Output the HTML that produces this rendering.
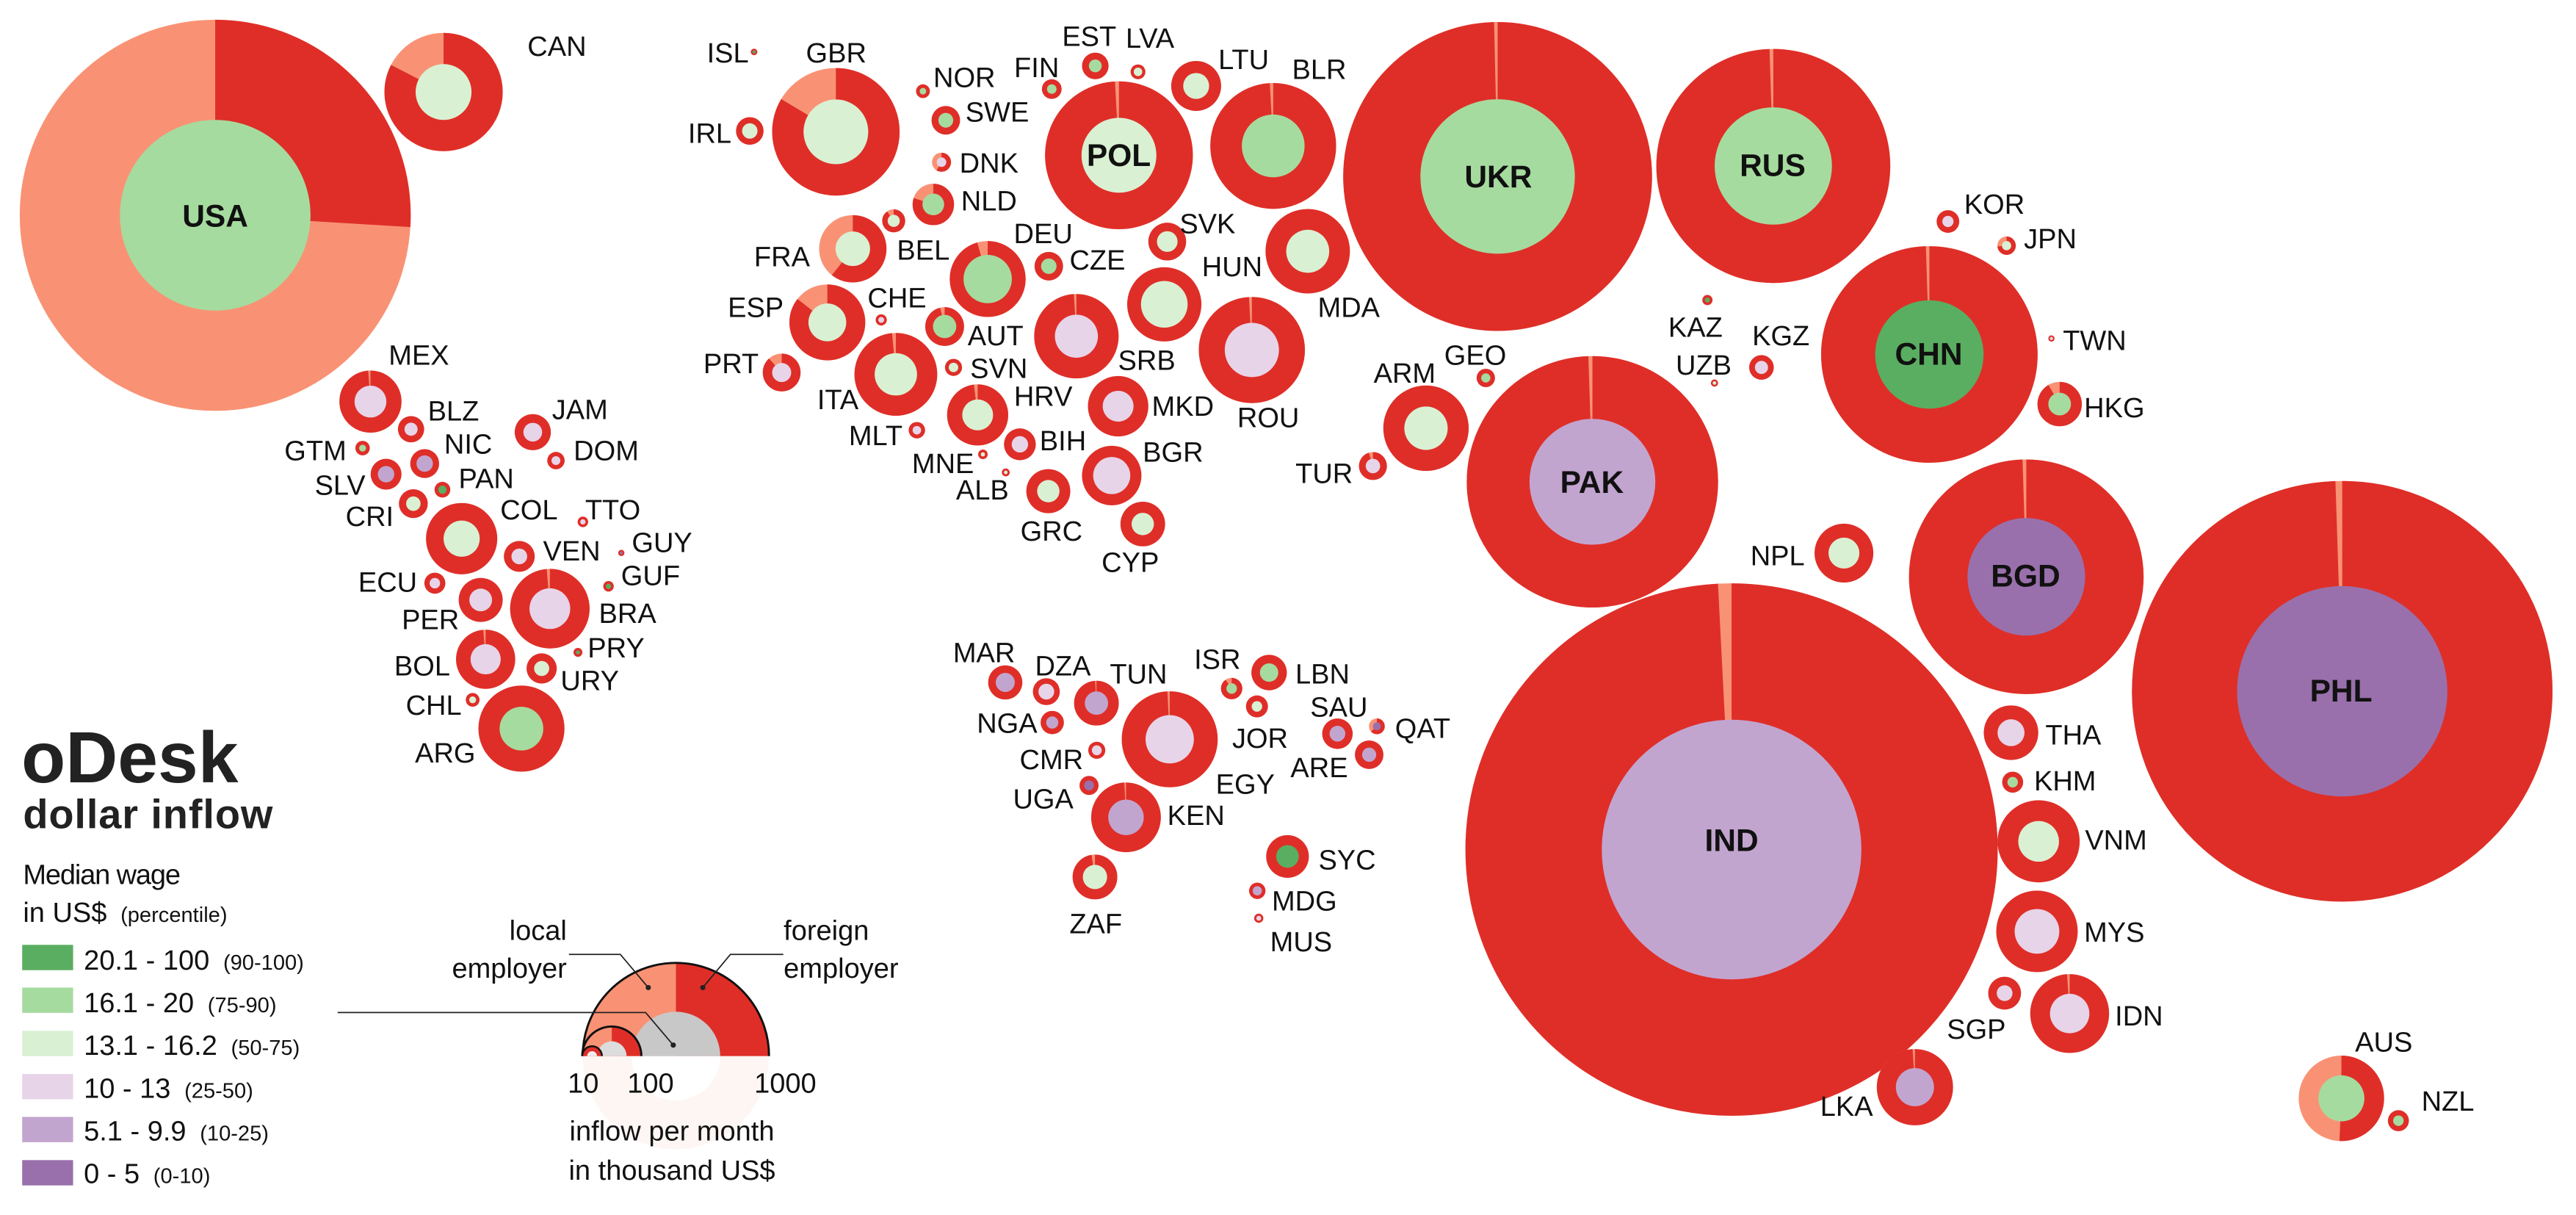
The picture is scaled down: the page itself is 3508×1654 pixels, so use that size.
<!DOCTYPE html>
<html><head><meta charset="utf-8"><style>
html,body{margin:0;padding:0;background:#fff}
svg{display:block}
.s{fill:#f99274}.r{fill:#df2e28}.w{fill:none;stroke:#df2e28}
text{font-family:"Liberation Sans",Arial,sans-serif;fill:#111}
.l{font-size:17px;text-anchor:middle}
.b{font-size:19px;font-weight:bold;text-anchor:middle}
.g{font-size:17px}
</style></head><body>
<svg width="3508" height="1654" viewBox="0 0 1568 739.4" preserveAspectRatio="none" xmlns="http://www.w3.org/2000/svg">
<rect width="1568" height="739.4" fill="#fff"/>
<!-- USA / CAN -->
<circle cx="131" cy="131" r="119" class="s"/><circle cx="131" cy="131" r="59.5" stroke-width="119" stroke-dasharray="26 100" pathLength="100" transform="rotate(-90 131 131)" class="w"/><circle cx="131" cy="131" r="58" fill="#a6db9f"/>
<circle cx="270" cy="56" r="36" class="s"/><circle cx="270" cy="56" r="18" stroke-width="36" stroke-dasharray="83 100" pathLength="100" transform="rotate(-90 270 56)" class="w"/><circle cx="270" cy="56" r="17" fill="#d9f0d3"/>
<!-- Europe -->
<circle cx="459" cy="31.6" r="2" class="r"/><circle cx="459" cy="31.6" r="1" fill="#5aae61"/>
<circle cx="508.8" cy="80.2" r="38.8" class="s"/><circle cx="508.8" cy="80.2" r="19.4" stroke-width="38.8" stroke-dasharray="84 100" pathLength="100" transform="rotate(-90 508.8 80.2)" class="w"/><circle cx="508.8" cy="80.2" r="19.7" fill="#d9f0d3"/>
<circle cx="456.4" cy="79.7" r="8.4" class="r"/><circle cx="456.4" cy="79.7" r="4.7" fill="#d9f0d3"/>
<circle cx="561.8" cy="55.5" r="4.2" class="r"/><circle cx="561.8" cy="55.5" r="2" fill="#a6db9f"/>
<circle cx="575.7" cy="73.2" r="8.7" class="r"/><circle cx="575.7" cy="73.2" r="4.5" fill="#a6db9f"/>
<circle cx="573.1" cy="98.7" r="5.8" class="s"/><circle cx="573.1" cy="98.7" r="2.9" stroke-width="5.8" stroke-dasharray="60 100" pathLength="100" transform="rotate(-90 573.1 98.7)" class="w"/><circle cx="573.1" cy="98.7" r="2.9" fill="#e7d4e8"/>
<circle cx="568.1" cy="124.4" r="12.6" class="s"/><circle cx="568.1" cy="124.4" r="6.3" stroke-width="12.6" stroke-dasharray="82 100" pathLength="100" transform="rotate(-90 568.1 124.4)" class="w"/><circle cx="568.1" cy="124.4" r="6.6" fill="#a6db9f"/>
<circle cx="640.2" cy="54.2" r="6" class="r"/><circle cx="640.2" cy="54.2" r="2.9" fill="#a6db9f"/>
<circle cx="666.7" cy="40.1" r="8.1" class="r"/><circle cx="666.7" cy="40.1" r="3.9" fill="#a6db9f"/>
<circle cx="692.7" cy="43.7" r="4.5" class="r"/><circle cx="692.7" cy="43.7" r="2.6" fill="#d9f0d3"/>
<circle cx="728.1" cy="52.3" r="15.2" class="r"/><circle cx="728.1" cy="52.3" r="7.9" fill="#d9f0d3"/>
<circle cx="681.1" cy="94.5" r="45" class="s"/><circle cx="681.1" cy="94.5" r="22.5" stroke-width="45" stroke-dasharray="99.6 100" pathLength="100" transform="rotate(-90 681.1 94.5)" class="w"/><circle cx="681.1" cy="94.5" r="22.8" fill="#d9f0d3"/>
<circle cx="775" cy="88.8" r="38.3" class="s"/><circle cx="775" cy="88.8" r="19.15" stroke-width="38.3" stroke-dasharray="99.6 100" pathLength="100" transform="rotate(-90 775 88.8)" class="w"/><circle cx="775" cy="88.8" r="19.1" fill="#a6db9f"/>
<circle cx="544" cy="134.4" r="7" class="s"/><circle cx="544" cy="134.4" r="3.5" stroke-width="7" stroke-dasharray="92 100" pathLength="100" transform="rotate(-90 544 134.4)" class="w"/><circle cx="544" cy="134.4" r="3.7" fill="#d9f0d3"/>
<circle cx="519.1" cy="151.4" r="20.5" class="s"/><circle cx="519.1" cy="151.4" r="10.25" stroke-width="20.5" stroke-dasharray="61 100" pathLength="100" transform="rotate(-90 519.1 151.4)" class="w"/><circle cx="519.1" cy="151.4" r="10.5" fill="#d9f0d3"/>
<circle cx="601.2" cy="169.8" r="23.1" class="s"/><circle cx="601.2" cy="169.8" r="11.55" stroke-width="23.1" stroke-dasharray="96 100" pathLength="100" transform="rotate(-90 601.2 169.8)" class="w"/><circle cx="601.2" cy="169.8" r="14.7" fill="#a6db9f"/>
<circle cx="638.4" cy="162" r="8.7" class="r"/><circle cx="638.4" cy="162" r="4.7" fill="#a6db9f"/>
<circle cx="710.5" cy="147" r="11.5" class="r"/><circle cx="710.5" cy="147" r="6.3" fill="#d9f0d3"/>
<circle cx="708.7" cy="185.2" r="22.6" class="r"/><circle cx="708.7" cy="185.2" r="14.2" fill="#d9f0d3"/>
<circle cx="796" cy="152.9" r="25.7" class="r"/><circle cx="796" cy="152.9" r="13.1" fill="#d9f0d3"/>
<circle cx="503.6" cy="196.2" r="23.1" class="s"/><circle cx="503.6" cy="196.2" r="11.55" stroke-width="23.1" stroke-dasharray="86 100" pathLength="100" transform="rotate(-90 503.6 196.2)" class="w"/><circle cx="503.6" cy="196.2" r="11.5" fill="#d9f0d3"/>
<circle cx="536.4" cy="194.7" r="3.4" class="r"/><circle cx="536.4" cy="194.7" r="1.8" fill="#e7d4e8"/>
<circle cx="575" cy="198.7" r="11.8" class="s"/><circle cx="575" cy="198.7" r="5.9" stroke-width="11.8" stroke-dasharray="98 100" pathLength="100" transform="rotate(-90 575 198.7)" class="w"/><circle cx="575" cy="198.7" r="7.1" fill="#a6db9f"/>
<circle cx="655.2" cy="204.6" r="25.7" class="s"/><circle cx="655.2" cy="204.6" r="12.85" stroke-width="25.7" stroke-dasharray="99.5 100" pathLength="100" transform="rotate(-90 655.2 204.6)" class="w"/><circle cx="655.2" cy="204.6" r="13.1" fill="#e7d4e8"/>
<circle cx="762" cy="213" r="32.3" class="s"/><circle cx="762" cy="213" r="16.15" stroke-width="32.3" stroke-dasharray="99.6 100" pathLength="100" transform="rotate(-90 762 213)" class="w"/><circle cx="762" cy="213" r="16.5" fill="#e7d4e8"/>
<circle cx="475.8" cy="226.7" r="11.5" class="s"/><circle cx="475.8" cy="226.7" r="5.75" stroke-width="11.5" stroke-dasharray="90 100" pathLength="100" transform="rotate(-90 475.8 226.7)" class="w"/><circle cx="475.8" cy="226.7" r="5.8" fill="#e7d4e8"/>
<circle cx="545.3" cy="227.8" r="25.2" class="s"/><circle cx="545.3" cy="227.8" r="12.6" stroke-width="25.2" stroke-dasharray="99 100" pathLength="100" transform="rotate(-90 545.3 227.8)" class="w"/><circle cx="545.3" cy="227.8" r="12.9" fill="#d9f0d3"/>
<circle cx="580.4" cy="223.6" r="5.2" class="r"/><circle cx="580.4" cy="223.6" r="2.9" fill="#d9f0d3"/>
<circle cx="595.1" cy="252.5" r="18.6" class="s"/><circle cx="595.1" cy="252.5" r="9.3" stroke-width="18.6" stroke-dasharray="98.5 100" pathLength="100" transform="rotate(-90 595.1 252.5)" class="w"/><circle cx="595.1" cy="252.5" r="9.4" fill="#d9f0d3"/>
<circle cx="680.6" cy="247.2" r="18.4" class="r"/><circle cx="680.6" cy="247.2" r="9.4" fill="#e7d4e8"/>
<circle cx="558.1" cy="261.8" r="5" class="r"/><circle cx="558.1" cy="261.8" r="2.6" fill="#e7d4e8"/>
<circle cx="620.8" cy="270.4" r="9.7" class="r"/><circle cx="620.8" cy="270.4" r="5" fill="#e7d4e8"/>
<circle cx="598.3" cy="276.5" r="2.9" class="r"/><circle cx="598.3" cy="276.5" r="1.3" fill="#d9f0d3"/>
<circle cx="612.2" cy="287.5" r="2.4" class="r"/><circle cx="612.2" cy="287.5" r="1.1" fill="#d9f0d3"/>
<circle cx="676.7" cy="289.4" r="18.1" class="r"/><circle cx="676.7" cy="289.4" r="11.3" fill="#e7d4e8"/>
<circle cx="638.1" cy="298.9" r="13.4" class="r"/><circle cx="638.1" cy="298.9" r="6.8" fill="#d9f0d3"/>
<circle cx="695.6" cy="318.9" r="13.6" class="r"/><circle cx="695.6" cy="318.9" r="6.8" fill="#d9f0d3"/>
<!-- Americas -->
<circle cx="225.5" cy="244.4" r="18.9" class="s"/><circle cx="225.5" cy="244.4" r="9.45" stroke-width="18.9" stroke-dasharray="99.3 100" pathLength="100" transform="rotate(-90 225.5 244.4)" class="w"/><circle cx="225.5" cy="244.4" r="9.7" fill="#e7d4e8"/>
<circle cx="250.2" cy="261.2" r="8" class="r"/><circle cx="250.2" cy="261.2" r="4" fill="#e7d4e8"/>
<circle cx="324.3" cy="263" r="11" class="r"/><circle cx="324.3" cy="263" r="5.7" fill="#e7d4e8"/>
<circle cx="220.7" cy="272.7" r="4.4" class="r"/><circle cx="220.7" cy="272.7" r="2.1" fill="#a6db9f"/>
<circle cx="258.5" cy="282.1" r="8.8" class="r"/><circle cx="258.5" cy="282.1" r="5" fill="#c2a5cf"/>
<circle cx="338.4" cy="280.3" r="5.3" class="r"/><circle cx="338.4" cy="280.3" r="2.7" fill="#e7d4e8"/>
<circle cx="235" cy="288.6" r="9.4" class="r"/><circle cx="235" cy="288.6" r="5" fill="#c2a5cf"/>
<circle cx="269.3" cy="298" r="4.8" class="r"/><circle cx="269.3" cy="298" r="2.5" fill="#5aae61"/>
<circle cx="251.6" cy="306.5" r="8.8" class="r"/><circle cx="251.6" cy="306.5" r="4.4" fill="#d9f0d3"/>
<circle cx="281" cy="327.8" r="21.7" class="r"/><circle cx="281" cy="327.8" r="11" fill="#d9f0d3"/>
<circle cx="354.8" cy="317.6" r="3.2" class="r"/><circle cx="354.8" cy="317.6" r="1.6" fill="#e7d4e8"/>
<circle cx="378.2" cy="336.5" r="1.9" class="r"/><circle cx="378.2" cy="336.5" r="0.9" fill="#9970ab"/>
<circle cx="316.1" cy="338.6" r="9.4" class="r"/><circle cx="316.1" cy="338.6" r="4.8" fill="#e7d4e8"/>
<circle cx="370.4" cy="356.8" r="3.2" class="r"/><circle cx="370.4" cy="356.8" r="1.6" fill="#5aae61"/>
<circle cx="264.7" cy="354.9" r="6.4" class="r"/><circle cx="264.7" cy="354.9" r="3.2" fill="#e7d4e8"/>
<circle cx="292.6" cy="365.1" r="13.4" class="r"/><circle cx="292.6" cy="365.1" r="6.9" fill="#e7d4e8"/>
<circle cx="334.7" cy="370.4" r="24.2" class="s"/><circle cx="334.7" cy="370.4" r="12.1" stroke-width="24.2" stroke-dasharray="99.2 100" pathLength="100" transform="rotate(-90 334.7 370.4)" class="w"/><circle cx="334.7" cy="370.4" r="12.4" fill="#e7d4e8"/>
<circle cx="351.8" cy="397" r="2.7" class="r"/><circle cx="351.8" cy="397" r="1.2" fill="#5aae61"/>
<circle cx="295.6" cy="401.2" r="18" class="s"/><circle cx="295.6" cy="401.2" r="9" stroke-width="18" stroke-dasharray="99.2 100" pathLength="100" transform="rotate(-90 295.6 401.2)" class="w"/><circle cx="295.6" cy="401.2" r="9.2" fill="#e7d4e8"/>
<circle cx="329.7" cy="406.8" r="9.2" class="r"/><circle cx="329.7" cy="406.8" r="4.6" fill="#d9f0d3"/>
<circle cx="287.7" cy="425.9" r="4.2" class="r"/><circle cx="287.7" cy="425.9" r="2.1" fill="#d9f0d3"/>
<circle cx="317.4" cy="443.4" r="26.2" class="r"/><circle cx="317.4" cy="443.4" r="13.3" fill="#a6db9f"/>
<!-- Africa / Middle East -->
<circle cx="611.9" cy="415.3" r="10.4" class="r"/><circle cx="611.9" cy="415.3" r="5.8" fill="#c2a5cf"/>
<circle cx="636.9" cy="420.9" r="8.2" class="r"/><circle cx="636.9" cy="420.9" r="4.8" fill="#e7d4e8"/>
<circle cx="667.4" cy="427.9" r="13.6" class="s"/><circle cx="667.4" cy="427.9" r="6.8" stroke-width="13.6" stroke-dasharray="99.5 100" pathLength="100" transform="rotate(-90 667.4 427.9)" class="w"/><circle cx="667.4" cy="427.9" r="7.1" fill="#c2a5cf"/>
<circle cx="749.7" cy="419" r="6.5" class="s"/><circle cx="749.7" cy="419" r="3.25" stroke-width="6.5" stroke-dasharray="92 100" pathLength="100" transform="rotate(-90 749.7 419)" class="w"/><circle cx="749.7" cy="419" r="3.2" fill="#a6db9f"/>
<circle cx="772.5" cy="409.3" r="10.8" class="r"/><circle cx="772.5" cy="409.3" r="5.6" fill="#a6db9f"/>
<circle cx="765.1" cy="429.9" r="6.7" class="r"/><circle cx="765.1" cy="429.9" r="3.2" fill="#d9f0d3"/>
<circle cx="640.5" cy="439.7" r="7.1" class="r"/><circle cx="640.5" cy="439.7" r="3.7" fill="#c2a5cf"/>
<circle cx="712" cy="449.9" r="29.2" class="s"/><circle cx="712" cy="449.9" r="14.6" stroke-width="29.2" stroke-dasharray="99.7 100" pathLength="100" transform="rotate(-90 712 449.9)" class="w"/><circle cx="712" cy="449.9" r="14.7" fill="#e7d4e8"/>
<circle cx="814.1" cy="446.5" r="9.3" class="r"/><circle cx="814.1" cy="446.5" r="4.8" fill="#c2a5cf"/>
<circle cx="838.1" cy="442" r="4.8" class="s"/><circle cx="838.1" cy="442" r="2.4" stroke-width="4.8" stroke-dasharray="70 100" pathLength="100" transform="rotate(-90 838.1 442)" class="w"/><circle cx="838.1" cy="442" r="2.4" fill="#9970ab"/>
<circle cx="833.4" cy="459.3" r="8.7" class="r"/><circle cx="833.4" cy="459.3" r="4.3" fill="#c2a5cf"/>
<circle cx="667.6" cy="456.6" r="5.2" class="r"/><circle cx="667.6" cy="456.6" r="3" fill="#e7d4e8"/>
<circle cx="662.9" cy="478" r="5.8" class="r"/><circle cx="662.9" cy="478" r="3" fill="#9970ab"/>
<circle cx="685.4" cy="497.4" r="21.2" class="s"/><circle cx="685.4" cy="497.4" r="10.6" stroke-width="21.2" stroke-dasharray="99.7 100" pathLength="100" transform="rotate(-90 685.4 497.4)" class="w"/><circle cx="685.4" cy="497.4" r="10.8" fill="#c2a5cf"/>
<circle cx="666.5" cy="533.7" r="13.6" class="s"/><circle cx="666.5" cy="533.7" r="6.8" stroke-width="13.6" stroke-dasharray="98 100" pathLength="100" transform="rotate(-90 666.5 533.7)" class="w"/><circle cx="666.5" cy="533.7" r="7.4" fill="#d9f0d3"/>
<circle cx="783.7" cy="521.2" r="13" class="r"/><circle cx="783.7" cy="521.2" r="6.9" fill="#5aae61"/>
<circle cx="765.3" cy="542.1" r="5" class="r"/><circle cx="765.3" cy="542.1" r="2.8" fill="#c2a5cf"/>
<circle cx="766.2" cy="558.8" r="2.8" class="r"/><circle cx="766.2" cy="558.8" r="1.5" fill="#e7d4e8"/>
<!-- Asia -->
<circle cx="911.6" cy="107.4" r="94" class="s"/><circle cx="911.6" cy="107.4" r="47" stroke-width="94" stroke-dasharray="99.75 100" pathLength="100" transform="rotate(-90 911.6 107.4)" class="w"/><circle cx="911.6" cy="107.4" r="47" fill="#a6db9f"/>
<circle cx="1079.4" cy="101" r="71.2" class="s"/><circle cx="1079.4" cy="101" r="35.6" stroke-width="71.2" stroke-dasharray="99.6 100" pathLength="100" transform="rotate(-90 1079.4 101)" class="w"/><circle cx="1079.4" cy="101" r="35.7" fill="#a6db9f"/>
<circle cx="1174.4" cy="215.7" r="65.9" class="s"/><circle cx="1174.4" cy="215.7" r="32.95" stroke-width="65.9" stroke-dasharray="99.6 100" pathLength="100" transform="rotate(-90 1174.4 215.7)" class="w"/><circle cx="1174.4" cy="215.7" r="33" fill="#5aae61"/>
<circle cx="969.3" cy="293.2" r="76.5" class="s"/><circle cx="969.3" cy="293.2" r="38.25" stroke-width="76.5" stroke-dasharray="99.6 100" pathLength="100" transform="rotate(-90 969.3 293.2)" class="w"/><circle cx="969.3" cy="293.2" r="38.3" fill="#c2a5cf"/>
<circle cx="868" cy="260.6" r="26" class="r"/><circle cx="868" cy="260.6" r="13.2" fill="#d9f0d3"/>
<circle cx="904.4" cy="230" r="5.6" class="r"/><circle cx="904.4" cy="230" r="2.8" fill="#a6db9f"/>
<circle cx="835.7" cy="283.6" r="8.5" class="s"/><circle cx="835.7" cy="283.6" r="4.25" stroke-width="8.5" stroke-dasharray="97 100" pathLength="100" transform="rotate(-90 835.7 283.6)" class="w"/><circle cx="835.7" cy="283.6" r="4.4" fill="#e7d4e8"/>
<circle cx="1039.3" cy="182.6" r="3.1" class="r"/><circle cx="1039.3" cy="182.6" r="1.5" fill="#5aae61"/>
<circle cx="1043.6" cy="233.1" r="2.2" class="r"/><circle cx="1043.6" cy="233.1" r="1.1" fill="#d9f0d3"/>
<circle cx="1072.2" cy="223.6" r="7.5" class="r"/><circle cx="1072.2" cy="223.6" r="4" fill="#e7d4e8"/>
<circle cx="1185.7" cy="134.8" r="6.9" class="r"/><circle cx="1185.7" cy="134.8" r="3.4" fill="#e7d4e8"/>
<circle cx="1221.4" cy="149.5" r="5.6" class="s"/><circle cx="1221.4" cy="149.5" r="2.8" stroke-width="5.6" stroke-dasharray="75 100" pathLength="100" transform="rotate(-90 1221.4 149.5)" class="w"/><circle cx="1221.4" cy="149.5" r="2.8" fill="#d9f0d3"/>
<circle cx="1248.7" cy="206" r="1.9" class="r"/><circle cx="1248.7" cy="206" r="1" fill="#e7d4e8"/>
<circle cx="1253.7" cy="245.9" r="13.5" class="s"/><circle cx="1253.7" cy="245.9" r="6.75" stroke-width="13.5" stroke-dasharray="92 100" pathLength="100" transform="rotate(-90 1253.7 245.9)" class="w"/><circle cx="1253.7" cy="245.9" r="6.9" fill="#a6db9f"/>
<circle cx="1122.4" cy="336.6" r="17.9" class="r"/><circle cx="1122.4" cy="336.6" r="9.4" fill="#d9f0d3"/>
<circle cx="1233.4" cy="351" r="71.4" class="s"/><circle cx="1233.4" cy="351" r="35.7" stroke-width="71.4" stroke-dasharray="99.6 100" pathLength="100" transform="rotate(-90 1233.4 351)" class="w"/><circle cx="1233.4" cy="351" r="35.8" fill="#9970ab"/>
<circle cx="1054" cy="517" r="162" class="s"/><circle cx="1054" cy="517" r="81" stroke-width="162" stroke-dasharray="99.3 100" pathLength="100" transform="rotate(-90 1054 517)" class="w"/><circle cx="1054" cy="517" r="79" fill="#c2a5cf"/>
<circle cx="1425.7" cy="420.7" r="128" class="s"/><circle cx="1425.7" cy="420.7" r="64" stroke-width="128" stroke-dasharray="99.6 100" pathLength="100" transform="rotate(-90 1425.7 420.7)" class="w"/><circle cx="1425.7" cy="420.7" r="64" fill="#9970ab"/>
<circle cx="1224.1" cy="445.9" r="16.6" class="r"/><circle cx="1224.1" cy="445.9" r="8.2" fill="#e7d4e8"/>
<circle cx="1225.1" cy="476" r="6.4" class="r"/><circle cx="1225.1" cy="476" r="3.2" fill="#a6db9f"/>
<circle cx="1240.9" cy="512" r="25" class="r"/><circle cx="1240.9" cy="512" r="12.4" fill="#d9f0d3"/>
<circle cx="1239.9" cy="566.8" r="24.8" class="r"/><circle cx="1239.9" cy="566.8" r="13.6" fill="#e7d4e8"/>
<circle cx="1220.2" cy="604.4" r="10" class="r"/><circle cx="1220.2" cy="604.4" r="4.8" fill="#e7d4e8"/>
<circle cx="1259.8" cy="616.8" r="24" class="s"/><circle cx="1259.8" cy="616.8" r="12" stroke-width="24" stroke-dasharray="99.4 100" pathLength="100" transform="rotate(-90 1259.8 616.8)" class="w"/><circle cx="1259.8" cy="616.8" r="12" fill="#e7d4e8"/>
<circle cx="1165.6" cy="661.6" r="23.2" class="s"/><circle cx="1165.6" cy="661.6" r="11.6" stroke-width="23.2" stroke-dasharray="99.5 100" pathLength="100" transform="rotate(-90 1165.6 661.6)" class="w"/><circle cx="1165.6" cy="661.6" r="11.6" fill="#c2a5cf"/>
<circle cx="1425.2" cy="668.4" r="26" class="s"/><circle cx="1425.2" cy="668.4" r="13" stroke-width="26" stroke-dasharray="51 100" pathLength="100" transform="rotate(-90 1425.2 668.4)" class="w"/><circle cx="1425.2" cy="668.4" r="14" fill="#a6db9f"/>
<circle cx="1459.9" cy="682" r="6.4" class="r"/><circle cx="1459.9" cy="682" r="3.2" fill="#a6db9f"/>

<!-- bold labels -->
<text class="b" x="131" y="138">USA</text>
<text class="b" x="681" y="101">POL</text>
<text class="b" x="912" y="114">UKR</text>
<text class="b" x="1079" y="107">RUS</text>
<text class="b" x="1174" y="222">CHN</text>
<text class="b" x="969" y="300">PAK</text>
<text class="b" x="1233" y="357">BGD</text>
<text class="b" x="1054" y="518">IND</text>
<text class="b" x="1425" y="427">PHL</text>
<!-- labels -->
<g class="l">
<text x="339" y="34">CAN</text>
<text x="443" y="38">ISL</text><text x="509" y="38">GBR</text><text x="432" y="87">IRL</text>
<text x="587" y="53">NOR</text><text x="607" y="74">SWE</text><text x="631" y="47">FIN</text>
<text x="663" y="28">EST</text><text x="700" y="29">LVA</text><text x="757" y="42">LTU</text>
<text x="803" y="48">BLR</text><text x="602" y="105">DNK</text><text x="602" y="128">NLD</text>
<text x="562" y="158">BEL</text><text x="476" y="162">FRA</text><text x="635" y="148">DEU</text>
<text x="668" y="164">CZE</text><text x="735" y="142">SVK</text><text x="750" y="168">HUN</text>
<text x="821" y="193">MDA</text><text x="460" y="193">ESP</text><text x="546" y="187">CHE</text>
<text x="606" y="210">AUT</text><text x="608" y="230">SVN</text><text x="698" y="225">SRB</text>
<text x="772" y="260">ROU</text><text x="445" y="227">PRT</text><text x="510" y="249">ITA</text>
<text x="635" y="247">HRV</text><text x="720" y="253">MKD</text><text x="533" y="271">MLT</text>
<text x="647" y="274">BIH</text><text x="574" y="288">MNE</text><text x="598" y="304">ALB</text>
<text x="714" y="281">BGR</text><text x="640" y="329">GRC</text><text x="688" y="348">CYP</text>
<text x="806" y="294">TUR</text>
<text x="255" y="222">MEX</text><text x="276" y="256">BLZ</text><text x="353" y="255">JAM</text>
<text x="192" y="280">GTM</text><text x="285" y="276">NIC</text><text x="369" y="280">DOM</text>
<text x="207" y="301">SLV</text><text x="296" y="297">PAN</text><text x="225" y="320">CRI</text>
<text x="322" y="316">COL</text><text x="373" y="316">TTO</text><text x="403" y="336">GUY</text>
<text x="348" y="341">VEN</text><text x="396" y="356">GUF</text><text x="236" y="360">ECU</text>
<text x="262" y="383">PER</text><text x="382" y="379">BRA</text><text x="375" y="400">PRY</text>
<text x="257" y="411">BOL</text><text x="359" y="420">URY</text><text x="264" y="435">CHL</text>
<text x="271" y="464">ARG</text>
<text x="599" y="403">MAR</text><text x="647" y="411">DZA</text><text x="693" y="416">TUN</text>
<text x="741" y="407">ISR</text><text x="805" y="416">LBN</text><text x="767" y="455">JOR</text>
<text x="613" y="446">NGA</text><text x="758" y="483">EGY</text><text x="815" y="436">SAU</text>
<text x="866" y="449">QAT</text><text x="803" y="473">ARE</text><text x="640" y="468">CMR</text>
<text x="635" y="492">UGA</text><text x="728" y="502">KEN</text><text x="667" y="568">ZAF</text>
<text x="820" y="529">SYC</text><text x="794" y="554">MDG</text><text x="792" y="579">MUS</text>
<text x="855" y="233">ARM</text><text x="898" y="222">GEO</text><text x="1032" y="205">KAZ</text>
<text x="1037" y="228">UZB</text><text x="1084" y="210">KGZ</text><text x="1214" y="130">KOR</text>
<text x="1248" y="151">JPN</text><text x="1275" y="213">TWN</text><text x="1287" y="254">HKG</text>
<text x="1082" y="344">NPL</text><text x="1262" y="453">THA</text><text x="1257" y="481">KHM</text>
<text x="1288" y="517">VNM</text><text x="1287" y="573">MYS</text><text x="1203" y="632">SGP</text>
<text x="1302" y="624">IDN</text><text x="1124" y="679">LKA</text><text x="1451" y="640">AUS</text>
<text x="1490" y="676">NZL</text>
</g>

<!-- Title & legend -->
<text x="13" y="476" style="font-size:44px;font-weight:bold;fill:#222">oDesk</text>
<text x="14" y="504" style="font-size:25px;font-weight:bold;fill:#222" textLength="152">dollar inflow</text>
<text x="14" y="538" class="g" textLength="96">Median wage</text>
<text x="14" y="561" class="g">in US$ <tspan style="font-size:13px">&#160;(percentile)</tspan></text>
<rect x="13.5" y="575" width="31" height="15.4" fill="#5aae61"/>
<rect x="13.5" y="601" width="31" height="15.4" fill="#a6db9f"/>
<rect x="13.5" y="627.3" width="31" height="15.4" fill="#d9f0d3"/>
<rect x="13.5" y="653.6" width="31" height="15.4" fill="#e7d4e8"/>
<rect x="13.5" y="679.7" width="31" height="15.4" fill="#c2a5cf"/>
<rect x="13.5" y="706" width="31" height="15.4" fill="#9970ab"/>
<g class="g">
<text x="51" y="590">20.1 - 100 <tspan style="font-size:13px">&#160;(90-100)</tspan></text>
<text x="51" y="616">16.1 - 20 <tspan style="font-size:13px">&#160;(75-90)</tspan></text>
<text x="51" y="642">13.1 - 16.2 <tspan style="font-size:13px">&#160;(50-75)</tspan></text>
<text x="51" y="668">10 - 13 <tspan style="font-size:13px">&#160;(25-50)</tspan></text>
<text x="51" y="694">5.1 - 9.9 <tspan style="font-size:13px">&#160;(10-25)</tspan></text>
<text x="51" y="720">0 - 5 <tspan style="font-size:13px">&#160;(0-10)</tspan></text>
</g>
<!-- size legend -->
<g opacity="0.12">
<circle cx="411.4" cy="642.7" r="56.7" fill="#f99274"/>
<circle cx="411.4" cy="642.7" r="27" fill="#fff"/>
</g>
<rect x="350" y="643" width="125" height="60" fill="#fff" opacity="0.35"/>
<path d="M354.7 642.7 A56.7 56.7 0 0 1 411.4 586 V642.7 Z" fill="#f99274"/>
<path d="M411.4 586 A56.7 56.7 0 0 1 468.1 642.7 H411.4 Z" fill="#df2e28"/>
<path d="M384.4 642.7 A27 27 0 0 1 438.4 642.7 Z" fill="#c8c8c8"/>
<path d="M354.7 642.7 A56.7 56.7 0 0 1 468.1 642.7" fill="none" stroke="#111" stroke-width="1.3"/>
<path d="M354.4 642.7 A18 18 0 0 1 372.4 624.7 V642.7 Z" fill="#f99274"/>
<path d="M372.4 624.7 A18 18 0 0 1 390.4 642.7 H372.4 Z" fill="#df2e28"/>
<path d="M363.4 642.7 A9 9 0 0 1 381.4 642.7 Z" fill="#dcdcdc"/>
<path d="M354.4 642.7 A18 18 0 0 1 390.4 642.7" fill="none" stroke="#111" stroke-width="1.3"/>
<path d="M354.4 642.7 A6 6 0 0 1 366.4 642.7 Z" fill="#df2e28"/>
<path d="M357.4 642.7 A3 3 0 0 1 363.4 642.7 Z" fill="#eee"/>
<path d="M354.4 642.7 A6 6 0 0 1 366.4 642.7" fill="none" stroke="#111" stroke-width="1.1"/>
<g fill="none" stroke="#222" stroke-width="0.8">
<polyline points="346.3,580.8 377.6,580.8 394.6,601"/>
<polyline points="476.8,580.8 444.6,580.8 427.8,601"/>
<polyline points="205.5,616.2 393,616.2 409.8,636"/>
</g>
<circle cx="394.6" cy="601" r="1.6" fill="#222"/><circle cx="427.8" cy="601" r="1.6" fill="#222"/><circle cx="409.8" cy="636" r="1.6" fill="#222"/>
<g class="g">
<text x="345" y="572" text-anchor="end">local</text>
<text x="345" y="595" text-anchor="end">employer</text>
<text x="477" y="572">foreign</text>
<text x="477" y="595">employer</text>
<text x="355" y="665" text-anchor="middle">10</text>
<text x="396" y="665" text-anchor="middle">100</text>
<text x="478" y="665" text-anchor="middle">1000</text>
<text x="409" y="694" text-anchor="middle">inflow per month</text>
<text x="409" y="718" text-anchor="middle">in thousand US$</text>
</g>
</svg>
</body></html>
